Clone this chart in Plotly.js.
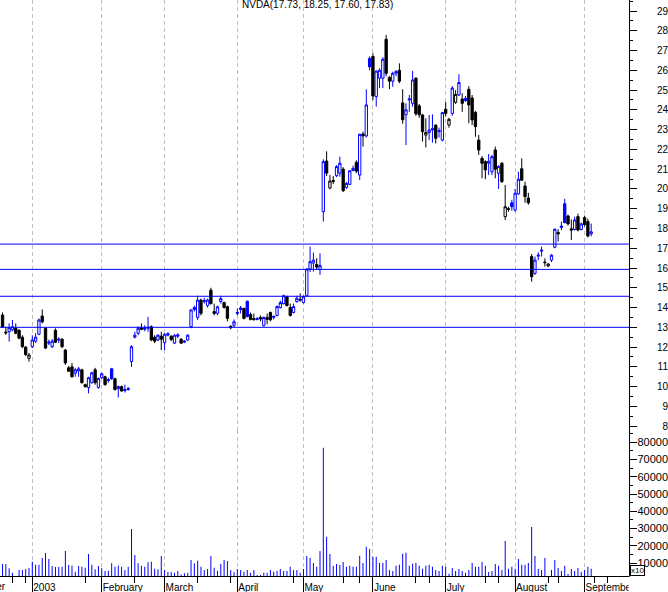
<!DOCTYPE html>
<html><head><meta charset="utf-8">
<script src="https://cdn.plot.ly/plotly-3.0.1.min.js"></script>
<style>html,body{margin:0;padding:0;background:#fff;overflow:hidden}</style>
</head><body><div id="chart" style="width:668px;height:592px"></div>
<script>
// ---- data (trading-day index of first visible candle, then daily OHLC + volume) ----
const FIRST_DAY = 12;
const open = [13.62,12.76,12.78,12.87,12.95,12.85,12.5,12.0,11.43,12.02,
12.3,12.65,13.57,12.95,12.2,12.02,12.85,12.35,12.4,11.85,
10.95,11.0,10.68,10.8,10.85,10.1,9.95,10.2,10.85,9.95,
10.45,10.5,10.3,10.9,10.4,9.9,10.0,9.8,9.85,11.27,
12.5,12.7,12.98,12.9,12.95,13.03,12.5,12.36,12.55,12.22,
12.6,12.55,12.2,12.55,12.4,12.25,12.36,13.03,13.9,13.5,
14.38,14.3,14.1,14.88,13.8,13.71,14.3,14.25,14.04,13.05,
13.1,13.7,13.9,13.95,14.32,13.65,13.45,13.4,13.5,13.08,
13.5,13.75,13.5,13.6,14.0,14.2,14.55,14.0,13.75,14.3,
14.42,14.25,14.6,15.95,16.25,16.18,15.92,18.85,21.41,20.05,
20.43,20.67,20.8,21.0,20.08,20.23,20.93,21.35,20.7,22.78,
22.68,26.6,26.7,24.67,25.6,25.6,27.57,25.65,25.45,25.85,
26.0,24.35,23.75,24.5,24.33,25.6,24.2,23.74,22.72,22.85,
22.98,23.23,22.9,22.47,24.03,23.23,23.82,24.38,24.75,24.55,
24.58,25.04,24.6,23.87,22.47,21.55,21.38,21.3,20.87,21.97,
20.79,21.3,18.6,19.0,19.3,18.93,19.75,21.02,20.15,19.54,
16.58,15.73,16.6,16.85,16.3,16.1,16.4,17.05,17.8,18.05,
19.25,18.63,17.98,17.95,18.6,17.95,18.55,18.35,17.73];
const high = [13.75,13.03,13.2,13.37,13.2,12.9,12.6,12.05,11.7,12.6,
12.7,13.45,13.9,13.0,12.38,12.4,12.95,12.5,12.45,11.9,
11.05,11.2,10.95,11.0,10.9,10.15,10.5,10.75,10.95,10.45,
10.7,10.55,10.45,10.95,10.45,10.05,10.05,10.1,9.98,12.1,
12.78,13.05,13.2,13.1,13.53,13.1,12.6,12.65,12.78,12.7,
12.75,12.6,12.65,12.7,12.45,12.35,12.65,13.9,14.1,14.6,
14.45,14.5,14.45,15.0,14.2,14.1,14.6,14.3,14.1,13.1,
13.4,13.95,14.08,14.0,14.35,13.75,13.7,13.5,13.6,13.55,
13.7,13.8,13.6,14.1,14.35,14.65,14.6,14.2,14.2,14.6,
14.72,14.6,15.98,17.08,16.78,16.5,16.74,21.5,21.9,20.7,
20.65,21.2,21.63,21.1,20.35,20.95,21.18,21.45,22.8,22.9,
25.04,26.7,26.86,26.0,26.1,26.66,27.79,25.7,25.93,26.0,
26.35,25.04,24.33,24.75,25.97,25.65,24.3,23.8,23.57,23.74,
23.77,23.25,23.1,23.9,24.4,23.6,25.2,25.0,25.8,24.84,
24.7,25.2,24.75,23.95,22.73,21.66,21.45,21.77,21.72,22.14,
21.2,21.35,20.2,19.1,19.45,20.0,20.87,21.55,20.37,19.8,
16.71,16.58,16.8,17.08,16.49,16.25,16.7,18.0,17.96,18.35,
19.5,18.7,18.46,18.6,18.75,18.3,18.65,18.5,18.25];
const low = [12.98,12.62,12.28,12.8,12.65,12.4,11.95,11.55,11.26,11.95,
12.2,12.6,13.2,11.9,12.1,11.95,12.2,12.2,11.95,11.1,
10.75,10.45,10.5,10.5,10.15,9.95,9.66,10.15,10.1,9.9,
10.4,10.05,10.2,10.35,9.8,9.45,9.75,9.7,9.8,11.0,
12.44,12.6,12.85,12.8,12.78,12.3,12.2,12.3,11.85,11.85,
12.55,12.3,12.15,12.45,12.15,12.2,12.3,12.95,13.8,13.37,
13.6,14.2,14.0,14.15,13.6,13.6,14.2,13.95,13.3,12.9,
13.0,13.6,13.7,13.4,13.5,13.35,13.35,13.35,13.3,13.05,
13.15,13.3,13.4,13.55,13.95,14.15,14.05,13.55,13.7,14.25,
14.3,14.2,14.55,15.8,15.82,15.9,15.65,18.35,20.65,19.98,
20.25,20.6,20.62,19.85,20.0,20.2,20.9,20.8,20.45,22.14,
22.6,26.0,24.5,24.16,25.1,25.1,25.7,25.05,25.17,25.7,
25.35,23.3,22.22,23.9,24.16,23.7,23.6,22.4,22.1,22.47,
22.34,22.3,22.6,22.4,23.66,23.1,23.7,24.3,24.7,23.9,
24.4,23.32,23.23,22.64,21.72,20.54,20.49,20.7,20.7,20.54,
20.0,20.3,18.43,18.85,18.9,18.85,19.7,20.4,19.3,19.2,
15.31,15.65,16.4,16.58,16.07,16.05,16.3,17.0,17.34,17.92,
18.25,18.15,17.42,17.9,17.85,17.9,18.1,17.55,17.60];
const close = [13.02,12.72,12.98,13.03,12.7,12.45,12.02,11.62,11.6,12.36,
12.5,13.37,13.28,11.95,12.25,12.3,12.25,12.4,12.02,11.2,
10.78,10.5,10.85,10.9,10.2,10.0,10.45,10.7,10.2,10.42,
10.65,10.1,10.35,10.4,9.85,10.0,9.78,9.85,9.9,12.02,
12.6,12.95,12.9,12.95,13.0,12.36,12.3,12.6,12.4,12.65,
12.68,12.38,12.6,12.62,12.2,12.3,12.6,13.88,14.0,14.38,
13.71,14.35,14.38,14.2,13.7,14.04,14.45,14.0,13.45,12.98,
13.28,13.75,13.98,13.45,13.55,13.4,13.38,13.45,13.42,13.5,
13.4,13.38,13.55,14.05,14.25,14.6,14.1,13.6,14.05,14.47,
14.38,14.55,15.95,16.32,16.4,16.05,16.12,21.38,20.8,20.4,
20.38,21.13,21.3,19.91,20.28,20.92,21.04,20.9,22.76,22.68,
24.25,26.18,24.7,25.96,26.0,26.56,25.85,25.45,25.85,25.95,
25.45,23.5,24.0,24.55,25.51,23.8,23.75,22.9,22.85,22.98,
23.05,22.56,22.95,23.86,23.82,23.52,25.1,24.78,25.38,24.33,
24.47,24.25,23.49,23.15,21.97,21.3,20.96,21.4,21.63,21.0,
21.14,20.37,19.1,18.97,19.1,19.78,20.49,20.44,19.61,19.3,
15.56,16.4,16.65,16.9,16.27,16.2,16.65,17.96,17.72,18.12,
18.3,18.23,17.92,18.43,17.92,18.23,18.2,17.62,17.83];
const volume = [9400,9400,6890,4370,2500,5920,5920,6500,7080,10750,
9010,9010,12880,15780,12300,8240,7660,7660,7850,16940,
8820,8620,4950,8240,7850,7270,15200,9010,6310,8240,
6890,5340,5340,9790,7850,8620,7850,5920,7850,29700,
14620,9790,8430,7850,10370,10750,6690,6310,14040,5920,
4760,4760,4370,5340,3400,4000,4370,11720,9790,11330,
7870,5930,6510,14050,7290,5350,9410,11730,11150,5930,
4580,6510,5930,4970,5930,4390,5930,3030,3030,4390,
4390,5930,4970,5350,6510,5350,5350,7870,5930,5930,
4390,6510,14050,12890,9990,7870,16950,76870,25260,15210,
8450,9410,8830,10570,7870,8450,7870,7870,14250,9990,
19460,18110,13670,13670,9990,9990,11730,5930,5350,8450,
9030,15410,15990,8450,9610,9990,8450,6710,8450,9030,
7870,5930,5350,8450,7870,3810,7090,5350,6510,5350,
4390,5930,9990,7870,7870,10570,8450,4770,5350,9410,
8450,5930,22750,6710,7870,6710,12310,9030,9030,9990,
30870,14050,6510,5930,12890,2500,5930,11730,7090,5350,
8450,3610,6510,5350,7090,4770,5930,7870,6710];
const monthStart = [21, 42, 61, 83, 103, 124, 146, 167, 188];
const monthLabels = ['2003', 'February', 'March', 'April', 'May', 'June', 'July', 'August', 'September'];
const prevMonthStart = 0, prevMonthLabel = 'December';
const minorTickDays = [15, 19, 37, 52, 71, 81, 100, 115, 120, 137, 141, 158, 162, 177, 180, 191, 195];
const levels = [17.21, 15.93, 14.57, 13.0];
const priceTicks = [8,9,10,11,12,13,14,15,16,17,18,19,20,21,22,23,24,25,26,27,28,29];
const volumeTicks = [10000,20000,30000,40000,50000,60000,70000,80000];
const chartTitle = 'NVDA(17.73, 18.25, 17.60, 17.83)';

// ---- geometry of the reference frame ----
const W = 668, H = 592, PLOT_R = 629, PLOT_B = 576, PRICE_B = 430;
const PX_PER_DAY = 3.307, JAN_PX = 32.3;
const xr0 = monthStart[0] - JAN_PX / PX_PER_DAY, xr1 = xr0 + PLOT_R / PX_PER_DAY;
const PX_PER_USD = 19.77;
const yTop = 29 + 11 / PX_PER_USD, yBot = yTop - PRICE_B / PX_PER_USD;
const PX_PER_10K = 17.24;
const vBot = 10000 - (PLOT_B - 563) / PX_PER_10K * 10000;
const vTop = 10000 + (563 - PRICE_B) / PX_PER_10K * 10000;
const splitFrac = 1 - PRICE_B / PLOT_B;
const xDomEnd = PLOT_R / W;

const day = open.map((_, i) => FIRST_DAY + i);
const isUp = close.map((c, i) => i > 0 && c >= close[i - 1]);
const pick = (arr, want) => arr.filter((_, i) => isUp[i] === want);
const BLUE = '#0000ff', BLACK = '#000000';
function candles(want, color, yaxis) {
  return {
    type: 'candlestick', xaxis: 'x', yaxis: yaxis,
    x: pick(day, want), open: pick(open, want), high: pick(high, want),
    low: pick(low, want), close: pick(close, want),
    increasing: {line: {color: color, width: 1}, fillcolor: '#ffffff'},
    decreasing: {line: {color: color, width: 1}, fillcolor: color},
    whiskerwidth: 0, hoverinfo: 'skip', showlegend: false
  };
}
function volBars(want, yaxis) {
  return {type: 'bar', x: pick(day, want), y: pick(volume, want), xaxis: 'x', yaxis: yaxis,
          width: 0.3, marker: {color: BLUE, line: {width: 0}}, hoverinfo: 'skip', showlegend: false};
}
// y / y2 carry the tick labels (placed at the right edge), y3 / y4 carry the axis line and tick marks
const traces = [
  volBars(true, 'y2'), volBars(false, 'y4'),
  candles(false, BLACK, 'y3'), candles(true, BLUE, 'y')
];
const FONT = 'Liberation Sans, Arial, sans-serif';
const decPaperX = (prevMonthStart - xr0) / (xr1 - xr0) * xDomEnd;
const labelAxis = (domain, range, vals, size) => ({
  domain: domain, range: range, side: 'left', anchor: 'free', position: 1, fixedrange: true,
  showline: false, showgrid: false, zeroline: false, ticks: '',
  tickmode: 'array', tickvals: vals, ticktext: vals.map(String),
  tickfont: {family: FONT, size: size, color: '#000'}
});
const tickAxis = (over, range, dtick) => ({
  overlaying: over, range: range, side: 'right', anchor: 'x', fixedrange: true,
  showline: true, linecolor: '#000', linewidth: 1, zeroline: false, showgrid: false,
  ticks: 'outside', ticklen: 7, tickcolor: '#000', tickmode: 'linear', tick0: 0, dtick: dtick,
  minor: {tick0: 0, dtick: dtick / 2, ticks: 'outside', ticklen: 3, tickcolor: '#000', showgrid: false},
  showticklabels: false
});
const layout = {
  width: W, height: H,
  margin: {l: 0, r: 0, t: 0, b: H - PLOT_B, pad: 0},
  paper_bgcolor: '#ffffff', plot_bgcolor: '#ffffff',
  showlegend: false, boxgap: 0.3, boxgroupgap: 0,
  font: {family: FONT, size: 10, color: '#000'},
  title: {text: chartTitle, x: 242 / W, xanchor: 'left', xref: 'paper',
          y: 1 - 1 / H, yanchor: 'top', yref: 'container',
          font: {family: FONT, size: 10, color: '#000'}, pad: {t: 0, b: 0, l: 0, r: 0}},
  xaxis: {
    domain: [0, xDomEnd], range: [xr0, xr1], anchor: 'y2', fixedrange: true,
    rangeslider: {visible: false},
    showline: true, linecolor: '#000', linewidth: 1, zeroline: false,
    ticks: 'outside', ticklen: 16, tickwidth: 1, tickcolor: '#000',
    tickmode: 'array', tickvals: monthStart, ticktext: monthLabels,
    ticklabelposition: 'outside right', ticklabelstandoff: 2,
    tickfont: {family: FONT, size: 10, color: '#000'},
    showgrid: true, gridcolor: '#c0c0c0', gridwidth: 1, griddash: '4px,3px',
    minor: {tickmode: 'array', tickvals: minorTickDays, ticks: 'outside', ticklen: 6,
            tickcolor: '#000', tickwidth: 1, showgrid: false}
  },
  yaxis: labelAxis([splitFrac, 1], [yBot, yTop], priceTicks, 10),
  yaxis3: tickAxis('y', [yBot, yTop], 1),
  yaxis2: labelAxis([0, splitFrac], [vBot, vTop], volumeTicks, 11),
  yaxis4: tickAxis('y2', [vBot, vTop], 10000),
  shapes: levels.map(v => ({type: 'line', xref: 'x domain', x0: 0, x1: 1, yref: 'y', y0: v, y1: v,
                            line: {color: BLUE, width: 1}, layer: 'above'})).concat([
    // the month labels are cut off where the plot frame ends, as in the reference
    {type: 'rect', xref: 'paper', yref: 'paper', x0: (PLOT_R - 0.5) / W, x1: 1,
     y0: -(H - PLOT_B) / PLOT_B, y1: -0.8 / PLOT_B, fillcolor: '#ffffff', line: {width: 0}, layer: 'above'}
  ]),
  annotations: [
    {text: prevMonthLabel, xref: 'paper', x: decPaperX, xanchor: 'left', xshift: -6, yref: 'paper', y: 0,
     yanchor: 'top', yshift: -3, showarrow: false, font: {family: FONT, size: 10, color: '#000'}},
    {text: 'x10', xref: 'paper', x: (PLOT_R + 1) / W, xanchor: 'left', yref: 'paper', y: 0,
     yanchor: 'bottom', showarrow: false, bordercolor: '#000', borderwidth: 1, borderpad: 0,
     bgcolor: '#fff', font: {family: FONT, size: 8, color: '#000'}}
  ]
};
Plotly.newPlot('chart', traces, layout, {staticPlot: true, displayModeBar: false});
</script>
</body></html>
